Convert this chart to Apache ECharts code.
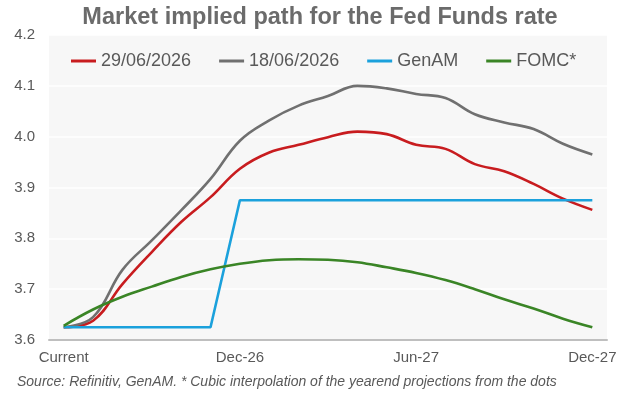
<!DOCTYPE html>
<html>
<head>
<meta charset="utf-8">
<script src="https://cdn.jsdelivr.net/npm/echarts@6/dist/echarts.min.js"></script>
<style>
  html, body { margin: 0; padding: 0; background: #ffffff; }
  #chart { width: 631px; height: 394px; }
</style>
</head>
<body>
<div id="chart"></div>
<script>
// Monthly horizon from today to Dec-27
const months = ['Current', 'Jul-26', 'Aug-26', 'Sep-26', 'Oct-26', 'Nov-26', 'Dec-26',
  'Jan-27', 'Feb-27', 'Mar-27', 'Apr-27', 'May-27', 'Jun-27',
  'Jul-27', 'Aug-27', 'Sep-27', 'Oct-27', 'Nov-27', 'Dec-27'];

// Market-implied paths (%)
const path290626 = [3.625, 3.638, 3.710, 3.773, 3.832, 3.881, 3.937, 3.969, 3.984, 3.999,
  4.010, 4.005, 3.984, 3.976, 3.946, 3.932, 3.907, 3.878, 3.856];
const path180626 = [3.625, 3.645, 3.738, 3.796, 3.855, 3.917, 3.992, 4.032, 4.061, 4.080,
  4.100, 4.095, 4.084, 4.076, 4.044, 4.028, 4.015, 3.986, 3.965];
// House view
const genam = [3.625, 3.625, 3.625, 3.625, 3.625, 3.625, 3.875, 3.875, 3.875, 3.875,
  3.875, 3.875, 3.875, 3.875, 3.875, 3.875, 3.875, 3.875, 3.875];
// FOMC dots, cubic interpolation of year-end projections
const fomc = [3.628, 3.660, 3.685, 3.705, 3.724, 3.739, 3.750, 3.757, 3.759, 3.758,
  3.753, 3.743, 3.732, 3.718, 3.700, 3.680, 3.662, 3.642, 3.625];

const seriesNames = ['29/06/2026', '18/06/2026', 'GenAM', 'FOMC*'];
const colors = ['#c81c1f', '#707070', '#1ba1dc', '#3a8526'];

const chart = echarts.init(document.getElementById('chart'), null, { renderer: 'canvas' });

const lineSeries = (name, data, color, smooth) => ({
  name: name,
  type: 'line',
  data: data,
  smooth: smooth,
  showSymbol: false,
  symbol: 'none',
  lineStyle: { color: color, width: 2.6 },
  itemStyle: { color: color },
  animation: false
});

chart.setOption({
  animation: false,
  title: [
    {
      text: 'Market implied path for the Fed Funds rate',
      left: 315,
      textAlign: 'center',
      top: 1,
      textStyle: { fontFamily: 'Liberation Sans, Arial, sans-serif', fontSize: 23.5, fontWeight: 'bold', color: '#6b6b6b' }
    },
    {
      text: 'Source: Refinitiv, GenAM. * Cubic interpolation of the yearend projections from the dots',
      left: 12,
      top: 370,
      textStyle: { fontFamily: 'Liberation Sans, Arial, sans-serif', fontSize: 14, fontStyle: 'italic', fontWeight: 'normal', color: '#595959' }
    }
  ],
  legend: {
    data: seriesNames,
    left: 66,
    top: 47,
    icon: 'rect',
    itemWidth: 25,
    itemHeight: 3,
    itemGap: 28,
    textStyle: { fontFamily: 'Liberation Sans, Arial, sans-serif', fontSize: 18, color: '#595959' }
  },
  grid: {
    left: 49, right: 24, top: 35, bottom: 54,
    show: true, backgroundColor: '#f7f7f7', borderWidth: 0
  },
  xAxis: {
    type: 'category',
    data: months,
    boundaryGap: true,
    axisLine: { lineStyle: { color: '#bfbfbf', width: 2 } },
    axisTick: { show: false },
    axisLabel: {
      interval: 5,
      margin: 10,
      fontFamily: 'Liberation Sans, Arial, sans-serif',
      fontSize: 15,
      color: '#595959'
    },
    splitLine: { show: false }
  },
  yAxis: {
    type: 'value',
    min: 3.6,
    max: 4.2,
    interval: 0.1,
    axisLine: { show: false },
    axisTick: { show: false },
    axisLabel: {
      margin: 14,
      fontFamily: 'Liberation Sans, Arial, sans-serif',
      fontSize: 15,
      color: '#595959',
      formatter: v => v.toFixed(1)
    },
    splitLine: { lineStyle: { color: '#ffffff', width: 1.5 } }
  },
  series: [
    lineSeries(seriesNames[0], path290626, colors[0], 0.4),
    lineSeries(seriesNames[1], path180626, colors[1], 0.4),
    lineSeries(seriesNames[2], genam, colors[2], false),
    lineSeries(seriesNames[3], fomc, colors[3], 0.4)
  ]
});
</script>
</body>
</html>
